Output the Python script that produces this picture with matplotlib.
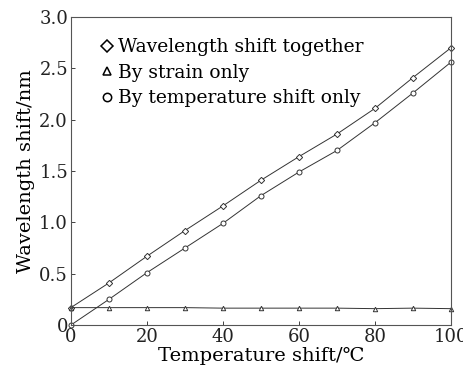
import matplotlib
matplotlib.use("Agg")
import matplotlib.pyplot as plt
from matplotlib.lines import Line2D

# data
temp = [0, 10, 20, 30, 40, 50, 60, 70, 80, 90, 100]
together = [0.17, 0.41, 0.67, 0.92, 1.16, 1.41, 1.64, 1.86, 2.11, 2.41, 2.70]
strain = [0.17, 0.17, 0.17, 0.17, 0.165, 0.165, 0.165, 0.165, 0.16, 0.165, 0.16]
temp_only = [0.0, 0.25, 0.51, 0.75, 0.99, 1.26, 1.49, 1.70, 1.97, 2.26, 2.56]

yticks = [0, 0.5, 1.0, 1.5, 2.0, 2.5, 3.0]
ytick_labels = ["0", "0.5", "1.0", "1.5", "2.0", "2.5", "3.0"]
xticks = [0, 20, 40, 60, 80, 100]

plt.rcParams["font.family"] = ["DejaVu Serif"]
LINE = "#333333"

fig = plt.figure(figsize=(4.63, 3.69), dpi=100)
ax = fig.add_axes([0.153, 0.119, 0.821, 0.835])

ax.plot(temp, together, color=LINE, lw=0.7, marker="D", ms=3.2,
        mfc="white", mec=LINE, mew=0.7, clip_on=False)
ax.plot(temp, strain, color=LINE, lw=0.7, marker="^", ms=3.2,
        mfc="white", mec=LINE, mew=0.7, clip_on=False)
ax.plot(temp, temp_only, color=LINE, lw=0.7, marker="o", ms=3.6,
        mfc="white", mec=LINE, mew=0.7, clip_on=False)

ax.set_xlim(0, 100)
ax.set_ylim(0, 3.0)
ax.set_xticks(xticks)
ax.set_xticklabels([str(t) for t in xticks])
ax.set_yticks(yticks)
ax.set_yticklabels(ytick_labels)
ax.tick_params(direction="in", length=3, width=0.6, labelsize=13, pad=2,
               colors="#222222")
for s in ax.spines.values():
    s.set_linewidth(0.8)
    s.set_color("#555555")
    s.set_linestyle((0, (4, 1)))

ax.set_xlabel("Temperature shift/\u2103", fontsize=14, labelpad=1)
ax.set_ylabel("Wavelength shift/nm", fontsize=14, labelpad=3)

handles = [
    Line2D([], [], ls="none", marker="D", ms=6, mfc="white", mec="black", mew=1.1),
    Line2D([], [], ls="none", marker="^", ms=6, mfc="white", mec="black", mew=1.1),
    Line2D([], [], ls="none", marker="o", ms=6, mfc="white", mec="black", mew=1.1),
]
labels = ["Wavelength shift together", "By strain only", "By temperature shift only"]
ax.legend(handles, labels, loc="upper left", bbox_to_anchor=(0.06, 0.955),
          frameon=False, fontsize=13.5, handlelength=0.6, handletextpad=0.3,
          labelspacing=0.4, borderaxespad=0)

fig.savefig("out.png", dpi=100)
